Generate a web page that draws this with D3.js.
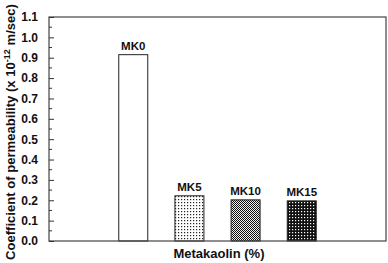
<!DOCTYPE html>
<html lang="en">
<head>
    <meta charset="UTF-8">
    <title>Coefficient of permeability</title>
    <script src="https://d3js.org/d3.v7.min.js"></script>
    <style>
        body { margin: 0; background: #fff; }
        svg { display: block; }
        text { font-family: Arial, "Liberation Sans", sans-serif; font-weight: bold; fill: #111; }
    </style>
</head>
<body>
    <div id="chart"></div>
    <script>
        // Data
        const categories = ["MK0", "MK5", "MK10", "MK15"];
        const permeability = [0.915, 0.222, 0.202, 0.197];
        const patterns = ["none", "dotsWhite", "checker", "dotsBlack"];
        const yTicks = [0.0, 0.1, 0.2, 0.3, 0.4, 0.5, 0.6, 0.7, 0.8, 0.9, 1.0, 1.1];

        const width = 388, height = 263;
        const margin = { top: 17, right: 2, bottom: 22, left: 49 };

        const svg = d3.select("#chart").append("svg")
            .attr("width", width)
            .attr("height", height);

        // fill patterns for the bars
        const defs = svg.append("defs");

        const pWhite = defs.append("pattern").attr("id", "dotsWhite")
            .attr("patternUnits", "userSpaceOnUse").attr("width", 3).attr("height", 3);
        pWhite.append("rect").attr("width", 3).attr("height", 3).attr("fill", "#fff");
        pWhite.append("rect").attr("x", 1).attr("y", 1).attr("width", 1.2).attr("height", 1.2).attr("fill", "#222");

        const pChk = defs.append("pattern").attr("id", "checker")
            .attr("patternUnits", "userSpaceOnUse").attr("width", 2).attr("height", 2);
        pChk.append("rect").attr("width", 2).attr("height", 2).attr("fill", "#eee");
        pChk.append("rect").attr("width", 1).attr("height", 1).attr("fill", "#111");
        pChk.append("rect").attr("x", 1).attr("y", 1).attr("width", 1).attr("height", 1).attr("fill", "#111");

        const pBlack = defs.append("pattern").attr("id", "dotsBlack")
            .attr("patternUnits", "userSpaceOnUse").attr("width", 3).attr("height", 3);
        pBlack.append("rect").attr("width", 3).attr("height", 3).attr("fill", "#111");
        pBlack.append("rect").attr("x", 1).attr("y", 1).attr("width", 1.2).attr("height", 1.2).attr("fill", "#fff");

        // x: six slots across the frame, bars sit in slots 1..4
        const x = d3.scaleLinear()
            .domain([-1, 5])
            .range([margin.left, width - margin.right]);

        const y = d3.scaleLinear()
            .domain([0, 1.1])
            .range([height - margin.bottom, margin.top]);

        const barW = 29;

        const g = svg.append("g");

        g.selectAll("rect.bar")
            .data(categories)
            .enter().append("rect")
            .attr("class", "bar")
            .attr("x", (d, i) => x(i + 0.5) - barW / 2)
            .attr("y", (d, i) => y(permeability[i]))
            .attr("width", barW)
            .attr("height", (d, i) => y(0) - y(permeability[i]))
            .attr("fill", (d, i) => patterns[i] === "none" ? "#fff" : `url(#${patterns[i]})`)
            .attr("stroke", "#222")
            .attr("stroke-width", 1);

        g.selectAll("text.lbl")
            .data(categories)
            .enter().append("text")
            .attr("class", "lbl")
            .attr("x", (d, i) => x(i + 0.5))
            .attr("y", (d, i) => y(permeability[i]) - 5)
            .attr("text-anchor", "middle")
            .style("font-size", "11.5px")
            .text(d => d);

        // frame
        svg.append("rect")
            .attr("x", margin.left)
            .attr("y", margin.top)
            .attr("width", width - margin.right - margin.left)
            .attr("height", height - margin.bottom - margin.top)
            .attr("fill", "none")
            .attr("stroke", "#444")
            .attr("stroke-width", 1.2);

        // y axis, ticks pointing inward
        const yAxis = d3.axisLeft(y)
            .tickValues(yTicks)
            .tickFormat(d3.format(".1f"))
            .tickSizeInner(-5)
            .tickSizeOuter(0)
            .tickPadding(11);

        const ya = svg.append("g")
            .attr("transform", `translate(${margin.left},0)`)
            .call(yAxis);
        ya.select(".domain").remove();
        ya.selectAll("line").attr("stroke", "#333");
        ya.selectAll("text").style("font-size", "12px").style("font-family", "Arial, 'Liberation Sans', sans-serif").attr("fill", "#111");

        // minor ticks
        const minor = d3.range(0.05, 1.1, 0.1);
        svg.append("g").selectAll("line")
            .data(minor)
            .enter().append("line")
            .attr("x1", margin.left)
            .attr("x2", margin.left + 3)
            .attr("y1", d => y(d))
            .attr("y2", d => y(d))
            .attr("stroke", "#333");

        // axis titles
        svg.append("text")
            .attr("x", 219)
            .attr("y", 258)
            .attr("text-anchor", "middle")
            .style("font-size", "13px")
            .text("Metakaolin (%)");

        const yt = svg.append("text")
            .attr("transform", "translate(15,132) rotate(-90)")
            .attr("text-anchor", "middle")
            .style("font-size", "13px");
        yt.append("tspan").text("Coefficient of permeability (x 10");
        yt.append("tspan").attr("dy", -5).style("font-size", "9px").text("-12");
        yt.append("tspan").attr("dy", 5).text(" m/sec)");

        // spread the rotated title over the full height like the original
        const len = yt.node().getComputedTextLength();
        const nChars = yt.text().length;
        yt.style("letter-spacing", ((256 - len) / nChars) + "px");
    </script>
</body>
</html>
